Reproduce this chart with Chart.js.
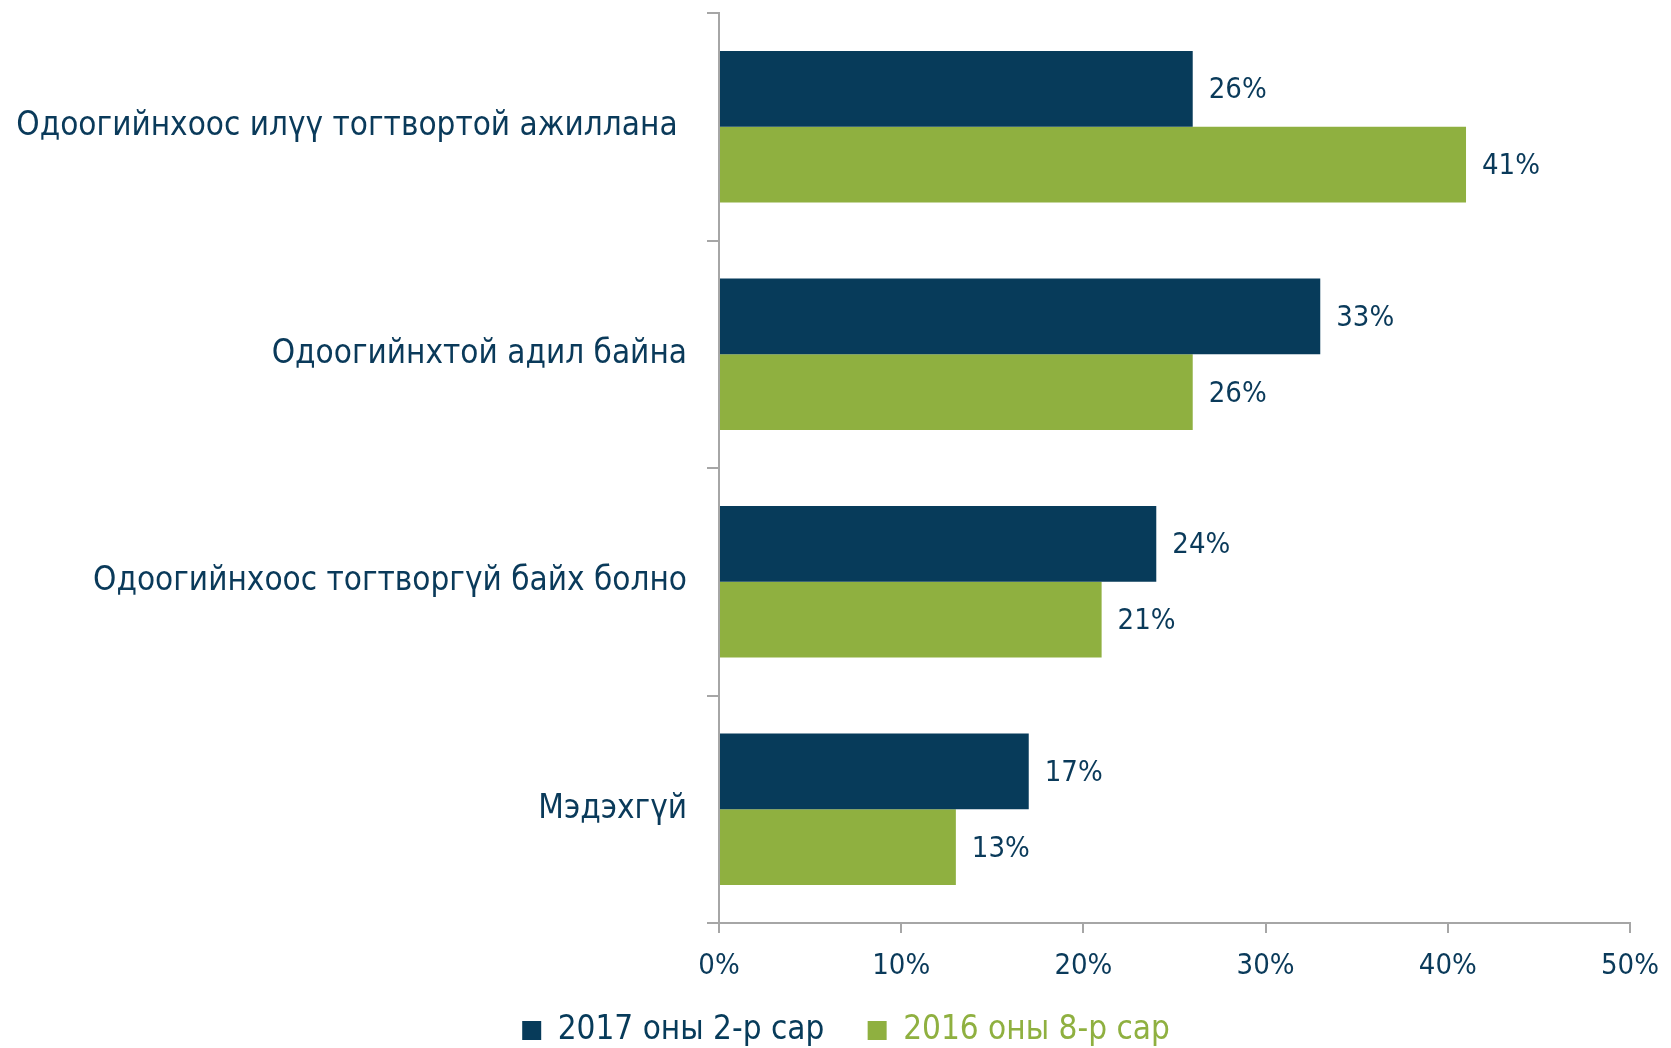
<!DOCTYPE html>
<html>
<head>
<meta charset="utf-8">
<script src="https://cdn.jsdelivr.net/npm/chart.js@4.4.1/dist/chart.umd.min.js"></script>
<style>
html,body{margin:0;padding:0;background:#fff;}
#wrap{width:1671px;height:1048px;position:relative;}
</style>
</head>
<body>
<div id="wrap"><canvas id="c" width="1671" height="1048"></canvas></div>
<script>
const categories = [
  "Одоогийнхоос илүү тогтвортой ажиллана ",
  "Одоогийнхтой адил байна",
  "Одоогийнхоос тогтворгүй байх болно",
  "Мэдэхгүй"
];
const seriesNames = ["2017 оны 2-р сар", "2016 оны 8-р сар"];
const values2017 = [26, 33, 24, 17];
const values2016 = [41, 26, 21, 13];
const xTicks = [0, 10, 20, 30, 40, 50];

const NAVY = '#073B5A';
const GREEN = '#8FB040';
const TEXT = '#0A3A5A';
const AXIS = '#A6A6A6';
const FONT = "'Liberation Sans Narrow', 'DejaVu Sans Condensed', 'Noto Sans', sans-serif";

const valueLabels = {
  id: 'valueLabels',
  afterDatasetsDraw(chart) {
    const ctx = chart.ctx;
    ctx.save();
    ctx.font = `29px ${FONT}`;
    ctx.fillStyle = TEXT;
    ctx.textAlign = 'left';
    ctx.textBaseline = 'middle';
    chart.data.datasets.forEach((ds, i) => {
      chart.getDatasetMeta(i).data.forEach((bar, j) => {
        ctx.fillText(ds.data[j] + '%', bar.x + 16, bar.y + 2);
      });
    });
    ctx.restore();
  }
};

// shift the legend block (layout tweak only)
const legendShift = {
  id: 'legendShift',
  afterLayout(chart) {
    const lg = chart.legend;
    if (!lg) return;
    lg.left += 31; lg.right += 31;
    lg.top += 9; lg.bottom += 9;
  }
};

new Chart(document.getElementById('c'), {
  type: 'bar',
  data: {
    labels: categories,
    datasets: [
      { label: seriesNames[0], data: values2017, backgroundColor: NAVY, categoryPercentage: 0.665, barPercentage: 1.0 },
      { label: seriesNames[1], data: values2016, backgroundColor: GREEN, categoryPercentage: 0.665, barPercentage: 1.0 }
    ]
  },
  options: {
    indexAxis: 'y',
    responsive: false,
    animation: false,
    layout: { padding: { left: 0, right: 41, top: 13, bottom: 0 } },
    plugins: {
      tooltip: { enabled: false },
      legend: {
        position: 'bottom',
        labels: {
          font: { size: 33, family: FONT },
          boxWidth: 19, boxHeight: 19, padding: 15,
          generateLabels(chart) {
            return chart.data.datasets.map((ds, i) => ({
              text: i === 0 ? ds.label + '   ' : ds.label,
              fillStyle: ds.backgroundColor, strokeStyle: ds.backgroundColor,
              lineWidth: 0, fontColor: ds.backgroundColor, datasetIndex: i, hidden: false
            }));
          }
        }
      }
    },
    scales: {
      x: {
        min: 0, max: 50,
        afterBuildTicks(scale) { scale.ticks = xTicks.map(v => ({ value: v })); },
        afterFit(scale) { scale.height = 67; scale.paddingLeft = 0; scale.paddingRight = 0; },
        border: { color: AXIS, width: 2 },
        grid: { drawOnChartArea: false, drawTicks: true, tickLength: 10, color: AXIS, lineWidth: 2 },
        ticks: { color: TEXT, font: { size: 29, family: FONT }, padding: 16, callback: v => v + '%' }
      },
      y: {
        afterFit(scale) { scale.width = 719; scale.paddingTop = 0; scale.paddingBottom = 0; },
        border: { color: AXIS, width: 2 },
        grid: { offset: true, drawOnChartArea: false, drawTicks: true, tickLength: 12, color: AXIS, lineWidth: 2 },
        ticks: { color: TEXT, font: { size: 33, family: FONT }, padding: 20 }
      }
    }
  },
  plugins: [valueLabels, legendShift]
});
</script>
</body>
</html>
